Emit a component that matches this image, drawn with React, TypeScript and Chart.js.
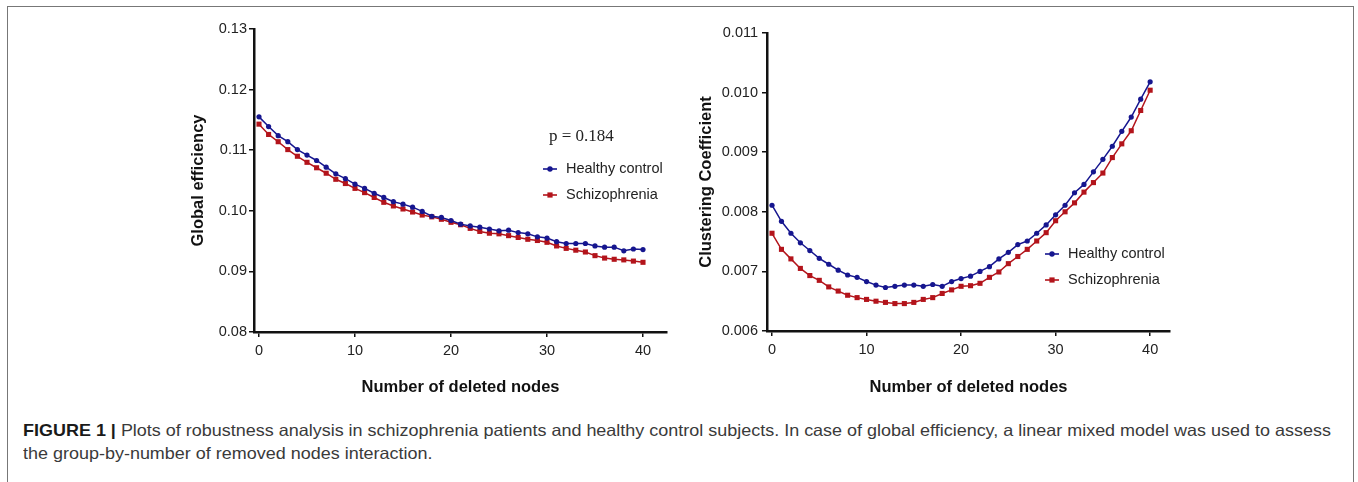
import React, { useEffect, useLayoutEffect, useRef } from "react";
import { Chart, registerables } from "chart.js";

Chart.register(...registerables);

// ---------------- DATA ----------------
const DELETED_NODES = [
  0, 1, 2, 3, 4, 5, 6, 7, 8, 9, 10, 11, 12, 13, 14, 15, 16, 17, 18, 19, 20,
  21, 22, 23, 24, 25, 26, 27, 28, 29, 30, 31, 32, 33, 34, 35, 36, 37, 38, 39, 40,
];
const X_TICKS = [0, 10, 20, 30, 40];

const GE_HEALTHY = [
  0.1155, 0.1139, 0.1124, 0.1114, 0.1101, 0.1092, 0.1083, 0.1072, 0.1061, 0.1053,
  0.1044, 0.1037, 0.1029, 0.1022, 0.1015, 0.1011, 0.1006, 0.0999, 0.0991, 0.0989,
  0.0984, 0.0978, 0.0975, 0.0973, 0.097, 0.0967, 0.0968, 0.0964, 0.0962, 0.0957,
  0.0955, 0.0949, 0.0946, 0.0946, 0.0946, 0.0942, 0.094, 0.094, 0.0934, 0.0937,
  0.0936,
];
const GE_SCHIZO = [
  0.1143, 0.1126, 0.1114, 0.1101, 0.109, 0.108, 0.1071, 0.1062, 0.1052, 0.1045,
  0.1037, 0.103, 0.1022, 0.1014, 0.1008, 0.1003, 0.0998, 0.0993, 0.099, 0.0986,
  0.0981, 0.0977, 0.0971, 0.0966, 0.0963, 0.0962, 0.0959, 0.0956, 0.0953, 0.0951,
  0.0948, 0.0942, 0.0938, 0.0935, 0.0932, 0.0926, 0.0922, 0.092, 0.0919, 0.0917,
  0.0915,
];
const GE_Y_TICKS = [0.08, 0.09, 0.1, 0.11, 0.12, 0.13];

const CC_HEALTHY = [
  0.00811, 0.00784, 0.00764, 0.00748, 0.00735, 0.00722, 0.00712, 0.00702, 0.00694,
  0.0069, 0.00683, 0.00677, 0.00673, 0.00675, 0.00677, 0.00677, 0.00675, 0.00678,
  0.00675, 0.00683, 0.00688, 0.00692, 0.007, 0.00708, 0.00721, 0.00732, 0.00745,
  0.00751, 0.00764, 0.00778, 0.00795, 0.00811, 0.00832, 0.00846, 0.00867, 0.00888,
  0.0091, 0.00935, 0.00959, 0.00989, 0.01018,
];
const CC_SCHIZO = [
  0.00764, 0.00737, 0.00721, 0.00705, 0.00693, 0.00685, 0.00674, 0.00667, 0.0066,
  0.00656, 0.00653, 0.0065, 0.00648, 0.00646, 0.00646, 0.00648, 0.00653, 0.00656,
  0.00663, 0.00669, 0.00675, 0.00676, 0.0068, 0.0069, 0.00699, 0.00713, 0.00725,
  0.00737, 0.00751, 0.00765, 0.00785, 0.008, 0.00815, 0.00833, 0.00849, 0.00865,
  0.00891, 0.00914, 0.00936, 0.0097, 0.01004,
];
const CC_Y_TICKS = [0.006, 0.007, 0.008, 0.009, 0.01, 0.011];

const SERIES_LABELS = ["Healthy control", "Schizophrenia"];
const X_TITLE = "Number of deleted nodes";
const P_VALUE_TEXT = "p = 0.184";

const CAPTION_BOLD = "FIGURE 1 |";
const CAPTION_LINE1 =
  " Plots of robustness analysis in schizophrenia patients and healthy control subjects. In case of global efficiency, a linear mixed model was used to assess";
const CAPTION_LINE2 = "the group-by-number of removed nodes interaction.";

// ---------------- STYLE ----------------
const BLUE = "#16168f";
const RED = "#b3141b";
const AXIS = "#111111";
const FONT = "'Liberation Sans', Arial, Helvetica, sans-serif";

Chart.defaults.font.family = FONT;

const legendPlugin = {
  id: "customLegend",
  afterDraw(chart: any, _args: any, opts: any) {
    if (!opts || !opts.items) return;
    const ctx = chart.ctx as CanvasRenderingContext2D;
    ctx.save();
    if (opts.pText) {
      ctx.font = "17px 'Liberation Serif', 'Times New Roman', serif";
      ctx.fillStyle = "#222";
      ctx.textBaseline = "middle";
      ctx.textAlign = "left";
      ctx.fillText(opts.pText, opts.pX, opts.pY);
    }
    chart.data.datasets.forEach((ds: any, i: number) => {
      const y = opts.y + i * opts.gap;
      const cx = opts.x;
      ctx.strokeStyle = ds.borderColor;
      ctx.lineWidth = 1.6;
      ctx.beginPath();
      ctx.moveTo(cx - 7, y);
      ctx.lineTo(cx + 7, y);
      ctx.stroke();
      ctx.fillStyle = ds.pointBackgroundColor;
      if (ds.pointStyle === "rect") {
        ctx.fillRect(cx - 2.6, y - 2.6, 5.2, 5.2);
      } else {
        ctx.beginPath();
        ctx.arc(cx, y, 2.7, 0, Math.PI * 2);
        ctx.fill();
      }
      ctx.font = "14.5px " + FONT;
      ctx.fillStyle = "#222";
      ctx.textBaseline = "middle";
      ctx.textAlign = "left";
      ctx.fillText(ds.label, cx + 16, y);
    });
    ctx.restore();
  },
};

type PanelProps = {
  left: number;
  top: number;
  width: number;
  height: number;
  healthy: number[];
  schizo: number[];
  yTicks: number[];
  yMin: number;
  yMax: number;
  xMin: number;
  xMax: number;
  decimals: number;
  yTitle: string;
  yAxisWidth: number;
  xAxisHeight: number;
  padTop: number;
  padRight: number;
  yTitlePad: number;
  yTickPad: number;
  legend: any;
};

function Panel(p: PanelProps) {
  const ref = useRef<HTMLCanvasElement>(null);
  useEffect(() => {
    if (!ref.current) return;
    const tickFont = { family: FONT, size: 14.5 };
    const titleFont = { family: FONT, size: 16.5, weight: "bold" as const };
    const chart = new Chart(ref.current, {
      type: "line",
      data: {
        datasets: [
          {
            label: SERIES_LABELS[0],
            data: DELETED_NODES.map((x, i) => ({ x, y: p.healthy[i] })),
            borderColor: BLUE,
            backgroundColor: BLUE,
            pointBackgroundColor: BLUE,
            pointBorderColor: BLUE,
            pointStyle: "circle",
            pointRadius: 2.6,
            pointBorderWidth: 0,
            borderWidth: 1.5,
            tension: 0,
          },
          {
            label: SERIES_LABELS[1],
            data: DELETED_NODES.map((x, i) => ({ x, y: p.schizo[i] })),
            borderColor: RED,
            backgroundColor: RED,
            pointBackgroundColor: RED,
            pointBorderColor: RED,
            pointStyle: "rect",
            pointRadius: 3.6,
            pointBorderWidth: 0,
            borderWidth: 1.5,
            tension: 0,
          },
        ],
      },
      options: {
        animation: false,
        responsive: false,
        devicePixelRatio: 1,
        layout: { padding: { top: p.padTop, right: p.padRight, left: 0, bottom: 0 } },
        plugins: {
          legend: { display: false },
          tooltip: { enabled: false },
          customLegend: p.legend,
        } as any,
        scales: {
          x: {
            type: "linear",
            min: p.xMin,
            max: p.xMax,
            afterBuildTicks: (s: any) => {
              s.ticks = X_TICKS.map((v) => ({ value: v }));
            },
            afterFit: (s: any) => {
              s.height = p.xAxisHeight;
            },
            ticks: {
              font: tickFont,
              color: "#222",
              padding: 5,
              callback: (v: any) => String(v),
            },
            grid: {
              drawOnChartArea: false,
              drawTicks: true,
              tickLength: 5,
              color: AXIS,
              lineWidth: 1.5,
            },
            border: { display: true, color: AXIS, width: 2.5 },
            title: {
              display: true,
              text: X_TITLE,
              font: titleFont,
              color: "#111",
              padding: { top: 0, bottom: 3 },
            },
          },
          y: {
            type: "linear",
            min: p.yMin,
            max: p.yMax,
            afterBuildTicks: (s: any) => {
              s.ticks = p.yTicks.map((v) => ({ value: v }));
            },
            afterFit: (s: any) => {
              s.width = p.yAxisWidth;
            },
            ticks: {
              font: tickFont,
              color: "#222",
              padding: p.yTickPad,
              callback: (v: any) => Number(v).toFixed(p.decimals),
            },
            grid: {
              drawOnChartArea: false,
              drawTicks: true,
              tickLength: 5,
              color: AXIS,
              lineWidth: 1.5,
            },
            border: { display: true, color: AXIS, width: 2.5 },
            title: {
              display: true,
              text: p.yTitle,
              font: titleFont,
              color: "#111",
              padding: { top: p.yTitlePad, bottom: 0 },
            },
          },
        },
      },
      plugins: [legendPlugin],
    });
    return () => chart.destroy();
  }, []);
  return (
    <canvas
      ref={ref}
      width={p.width}
      height={p.height}
      style={{ position: "absolute", left: p.left, top: p.top, width: p.width, height: p.height }}
    />
  );
}

export default function App() {
  const l1 = useRef<HTMLDivElement>(null);
  const l2 = useRef<HTMLDivElement>(null);
  useLayoutEffect(() => {
    if (!l1.current || !l2.current) return;
    const w = l1.current.scrollWidth;
    const s = 1308 / w;
    l1.current.style.transform = `scaleX(${s})`;
    l2.current.style.transform = `scaleX(${s})`;
  }, []);

  const captionLine: React.CSSProperties = {
    position: "absolute",
    left: 0,
    whiteSpace: "nowrap",
    display: "inline-block",
    transformOrigin: "0 0",
    fontFamily: FONT,
    fontSize: 16.5,
    lineHeight: "20px",
    color: "#3a3a3a",
  };

  return (
    <div
      style={{
        position: "absolute",
        left: 0,
        top: 0,
        width: 1358,
        height: 482,
        overflow: "hidden",
        background: "#fff",
      }}
    >
      <div
        style={{
          position: "absolute",
          left: 7,
          top: 6,
          width: 1347,
          height: 600,
          border: "1.5px solid #777",
          boxSizing: "border-box",
        }}
      />
      <Panel
        left={180}
        top={15}
        width={500}
        height={385}
        healthy={GE_HEALTHY}
        schizo={GE_SCHIZO}
        yTicks={GE_Y_TICKS}
        yMin={0.08}
        yMax={0.13}
        xMin={-0.52}
        xMax={42.5}
        decimals={2}
        yTitle="Global efficiency"
        yAxisWidth={74}
        xAxisHeight={68}
        padTop={14}
        padRight={13}
        yTitlePad={8.6}
        yTickPad={2}
        legend={{ items: true, x: 370, y: 154, gap: 26, pText: P_VALUE_TEXT, pX: 369, pY: 122 }}
      />
      <Panel
        left={690}
        top={15}
        width={500}
        height={385}
        healthy={CC_HEALTHY}
        schizo={CC_SCHIZO}
        yTicks={CC_Y_TICKS}
        yMin={0.006}
        yMax={0.011}
        xMin={-0.53}
        xMax={42.1}
        decimals={3}
        yTitle="Clustering Coefficient"
        yAxisWidth={77}
        xAxisHeight={69}
        padTop={18}
        padRight={20}
        yTitlePad={6.1}
        yTickPad={4}
        legend={{ items: true, x: 362, y: 239, gap: 26 }}
      />
      <div style={{ position: "absolute", left: 23, top: 420 }}>
        <div ref={l1} style={{ ...captionLine, top: 0 }}>
          <span style={{ fontWeight: "bold", color: "#1a1a1a" }}>{CAPTION_BOLD}</span>
          {CAPTION_LINE1}
        </div>
        <div ref={l2} style={{ ...captionLine, top: 23 }}>
          {CAPTION_LINE2}
        </div>
      </div>
    </div>
  );
}
